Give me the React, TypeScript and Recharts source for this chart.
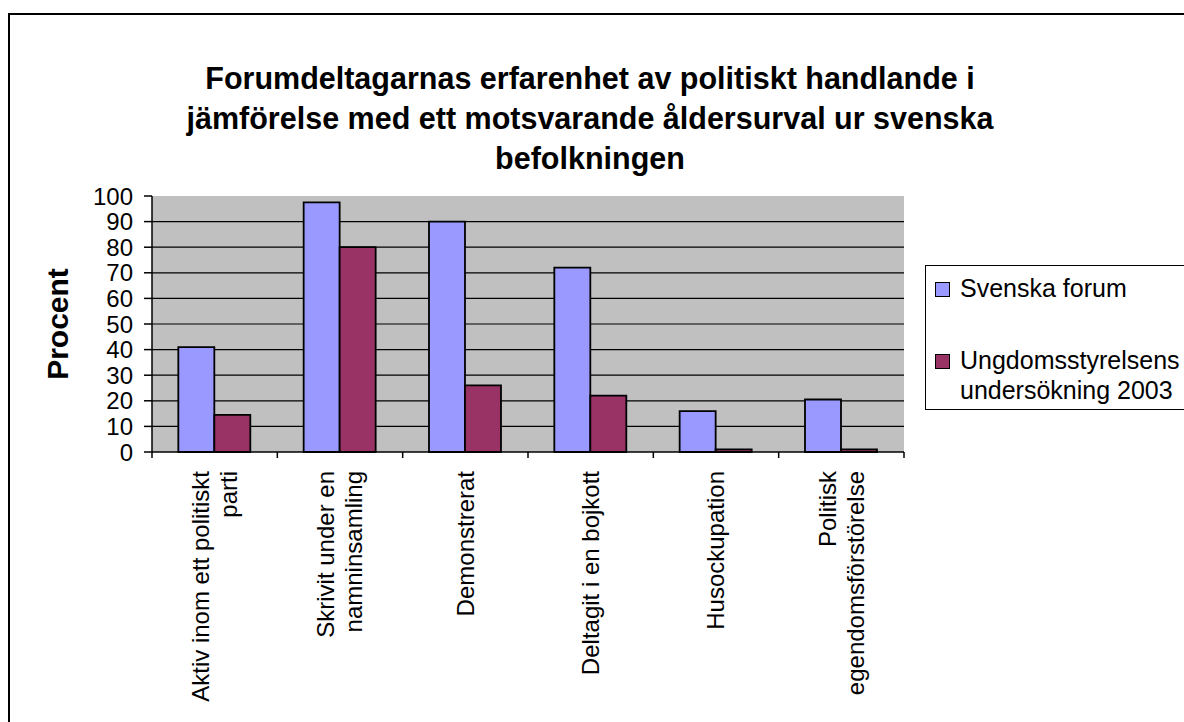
import React from "react";
import {
  BarChart,
  Bar,
  XAxis,
  YAxis,
  CartesianGrid,
  ReferenceArea,
  Label,
} from "recharts";

const categories = [
  "Aktiv inom ett politiskt\nparti",
  "Skrivit under en\nnamninsamling",
  "Demonstrerat",
  "Deltagit i en bojkott",
  "Husockupation",
  "Politisk\negendomsförstörelse",
];
const svenskaForum = [41, 97.5, 90, 72, 16, 20.5];
const ungdomsstyrelsen = [14.5, 80, 26, 22, 1, 1];
const seriesNames = ["Svenska forum", "Ungdomsstyrelsens undersökning 2003"];
const seriesColors = ["#9999FF", "#993366"];
const yTicks = [0, 10, 20, 30, 40, 50, 60, 70, 80, 90, 100];
const gridValues = [10, 20, 30, 40, 50, 60, 70, 80, 90];
const titleLines = [
  "Forumdeltagarnas erfarenhet av politiskt handlande i",
  "jämförelse med ett motsvarande åldersurval ur svenska",
  "befolkningen",
];

const data = categories.map((name, i) => ({
  name,
  forum: svenskaForum[i],
  ung: ungdomsstyrelsen[i],
}));

const FONT = '"Liberation Sans", Arial, Helvetica, sans-serif';
const X_TICK = 6;
const X_MARGIN = 13;
const N = categories.length;

// rotated, centred multi-line category label + tick marks on the category edges
const CatTick = (props: any) => {
  const { x, y, payload, index, visibleTicksCount } = props;
  const lines = String(payload.value).split("\n");
  const lh = 28;
  const half = payload.offset || 0;
  const y0 = y - X_MARGIN - X_TICK;
  const y1 = y - X_MARGIN;
  return (
    <g>
      <line x1={x - half} x2={x - half} y1={y0} y2={y1} stroke="#000" strokeWidth={1.5} />
      {index === visibleTicksCount - 1 && (
        <line x1={x + half} x2={x + half} y1={y0} y2={y1} stroke="#000" strokeWidth={1.5} />
      )}
      <g transform={`translate(${x},${y}) rotate(-90)`}>
        <text textAnchor="end" fontFamily={FONT} fontSize={24} fill="#000">
          {lines.map((l, i) => (
            <tspan key={i} x={0} y={(i - (lines.length - 1) / 2) * lh} dy="0.35em">
              {l}
            </tspan>
          ))}
        </text>
      </g>
    </g>
  );
};

// legend box sits to the right of the plot, partly cut by the page edge
const LegendBox = () => (
  <div
    style={{
      position: "absolute",
      left: 925,
      top: 265,
      width: 280,
      height: 145,
      border: "1.5px solid #000",
      boxSizing: "border-box",
      background: "#fff",
      fontFamily: FONT,
      fontSize: 25,
      color: "#000",
      paddingTop: 7,
      paddingLeft: 9,
      display: "flex",
      flexDirection: "column",
      gap: 42,
    }}
  >
    {seriesNames.map((name, i) => (
      <div key={i} style={{ display: "flex", alignItems: "flex-start", lineHeight: "30px" }}>
        <span
          style={{
            width: 13,
            height: 13,
            marginTop: 9,
            marginRight: 10,
            background: seriesColors[i],
            border: "1px solid #000",
            flex: "none",
          }}
        />
        <span style={{ width: 230, textAlign: "left" }}>{name}</span>
      </div>
    ))}
  </div>
);

export default function App() {
  return (
    <div
      style={{
        position: "fixed",
        left: 0,
        top: 0,
        width: 1184,
        height: 722,
        overflow: "hidden",
        background: "#fff",
      }}
    >
      <div
        style={{
          position: "absolute",
          left: 8,
          top: 13,
          width: 1300,
          height: 800,
          border: "2px solid #000",
        }}
      />
      <div
        style={{
          position: "absolute",
          left: 0,
          top: 58,
          width: 1180,
          textAlign: "center",
          fontFamily: FONT,
          fontWeight: "bold",
          fontSize: 30.5,
          lineHeight: "40px",
          color: "#000",
        }}
      >
        {titleLines.map((t, i) => (
          <div key={i}>{t}</div>
        ))}
      </div>
      <div style={{ position: "absolute", left: 0, top: 0 }}>
        <BarChart
          width={1184}
          height={722}
          data={data}
          margin={{ top: 196, right: 280, bottom: 10, left: -38 }}
          barCategoryGap="21%"
          barGap={0}
        >
          {/* hidden helper axis spanning the full plot, used for the frame */}
          <XAxis xAxisId="edges" type="number" domain={[0, N]} hide allowDataOverflow />
          <XAxis
            xAxisId="cat"
            dataKey="name"
            type="category"
            interval={0}
            tick={<CatTick />}
            tickLine={false}
            tickSize={X_TICK}
            tickMargin={X_MARGIN}
            axisLine={{ stroke: "#000", strokeWidth: 1.5 }}
            height={260}
          />
          <YAxis
            domain={[0, 100]}
            ticks={yTicks}
            interval={0}
            width={190}
            tickSize={8}
            tickMargin={11}
            tickLine={{ stroke: "#000", strokeWidth: 1.5 }}
            axisLine={{ stroke: "#000", strokeWidth: 1.5 }}
            tick={{ fontFamily: FONT, fontSize: 24, fill: "#000" }}
          >
            <Label
              value="Procent"
              angle={-90}
              position="center"
              style={{ fontFamily: FONT, fontSize: 30, fontWeight: "bold", fill: "#000" }}
            />
          </YAxis>
          <CartesianGrid
            xAxisId="cat"
            vertical={false}
            horizontalValues={gridValues}
            stroke="#000"
            strokeWidth={1.2}
            fill="#C0C0C0"
            fillOpacity={1}
          />
          <ReferenceArea
            xAxisId="edges"
            x1={0}
            x2={N}
            y1={0}
            y2={100}
            fill="none"
            stroke="#808080"
            strokeWidth={2}
          />
          <Bar
            xAxisId="cat"
            dataKey="forum"
            name={seriesNames[0]}
            fill={seriesColors[0]}
            stroke="#000"
            strokeWidth={1.8}
            isAnimationActive={false}
          />
          <Bar
            xAxisId="cat"
            dataKey="ung"
            name={seriesNames[1]}
            fill={seriesColors[1]}
            stroke="#000"
            strokeWidth={1.8}
            isAnimationActive={false}
          />
        </BarChart>
      </div>
      <LegendBox />
    </div>
  );
}
